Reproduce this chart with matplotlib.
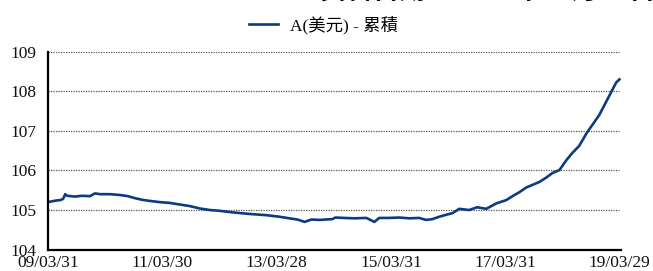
import matplotlib
matplotlib.use("Agg")
import matplotlib.pyplot as plt
import pandas as pd

series_name = "A(美元) - 累積"
title_text = "資料日期：2019年03月31日"

dates = [
    "2009-03-31", "2009-04-26", "2009-05-22", "2009-06-17", "2009-07-05", "2009-07-19",
    "2009-07-31", "2009-09-19", "2009-11-03", "2009-12-24", "2010-01-25", "2010-02-27",
    "2010-05-01", "2010-07-04", "2010-08-24", "2010-10-07", "2010-11-20", "2011-01-10",
    "2011-03-14", "2011-05-17", "2011-07-19", "2011-09-22", "2011-11-24", "2012-01-28",
    "2012-03-31", "2012-06-23", "2012-10-10", "2013-01-24", "2013-04-18", "2013-06-20",
    "2013-08-10", "2013-09-25", "2013-11-08", "2013-12-30", "2014-03-21", "2014-04-10",
    "2014-06-05", "2014-08-09", "2014-10-25", "2014-12-15", "2015-01-14", "2015-03-20",
    "2015-05-22", "2015-07-26", "2015-09-27", "2015-11-10", "2015-12-20", "2016-02-02",
    "2016-03-17", "2016-04-26", "2016-06-09", "2016-08-11", "2016-10-01", "2016-11-28",
    "2017-02-02", "2017-04-05", "2017-05-15", "2017-06-28", "2017-08-11", "2017-09-17",
    "2017-11-03", "2017-12-17", "2018-01-23", "2018-03-11", "2018-04-24", "2018-06-01",
    "2018-07-15", "2018-08-31", "2018-10-07", "2018-11-20", "2018-12-23", "2019-01-25",
    "2019-02-20", "2019-03-08", "2019-03-29",
]
values = [
    105.20, 105.22, 105.24, 105.25, 105.28, 105.40,
    105.36, 105.34, 105.36, 105.35, 105.42, 105.40,
    105.40, 105.38, 105.35, 105.30, 105.26, 105.23,
    105.20, 105.18, 105.14, 105.10, 105.04, 105.00,
    104.98, 104.94, 104.90, 104.87, 104.83, 104.79,
    104.76, 104.70, 104.76, 104.75, 104.77, 104.81,
    104.80, 104.79, 104.80, 104.70, 104.80, 104.80,
    104.81, 104.79, 104.80, 104.75, 104.77, 104.83,
    104.88, 104.92, 105.03, 105.00, 105.07, 105.03,
    105.17, 105.25, 105.35, 105.45, 105.57, 105.63,
    105.71, 105.82, 105.93, 106.01, 106.26, 106.44,
    106.62, 106.94, 107.15, 107.40, 107.65, 107.90,
    108.10, 108.22, 108.30,
]
xtick_dates = ["2009-03-31", "2011-03-30", "2013-03-28", "2015-03-31", "2017-03-31", "2019-03-29"]
xtick_labels = ["09/03/31", "11/03/30", "13/03/28", "15/03/31", "17/03/31", "19/03/29"]
yticks = [104, 105, 106, 107, 108, 109]

serif = ["Liberation Serif", "Noto Sans CJK TC", "DejaVu Sans"]

fig = plt.figure(figsize=(6.53, 2.71), dpi=100)
ax = fig.add_axes([48 / 653, 1 - 249.6 / 271, (621 - 48) / 653, (249.6 - 51.7) / 271])

x = pd.to_datetime(dates)
line, = ax.plot(x, values, color="#0d3b80", lw=1.9, solid_joinstyle="round")

ax.set_ylim(104, 109)
ax.set_xlim(pd.Timestamp(xtick_dates[0]), pd.Timestamp(xtick_dates[-1]) + pd.Timedelta(days=10))
ax.set_yticks(yticks)
ax.set_yticklabels([str(v) for v in yticks], family=serif, fontsize=12.5)
ax.set_xticks(pd.to_datetime(xtick_dates))
ax.set_xticklabels(xtick_labels, family=serif, fontsize=12.5)
ax.tick_params(axis="both", length=0, colors="#111111")
ax.tick_params(axis="y", pad=8)
ax.tick_params(axis="x", pad=4)

for v in yticks[1:]:
    ax.axhline(v, color="#555555", lw=0.9, ls=(0, (1, 1)), xmax=(619 - 48) / (621 - 48), zorder=0)

for s in ["top", "right"]:
    ax.spines[s].set_visible(False)
ax.spines["left"].set_linewidth(1.6)
ax.spines["bottom"].set_linewidth(1.6)
ax.spines["left"].set_color("black")
ax.spines["bottom"].set_color("black")

fig.legend([line], [series_name], loc="center",
           bbox_to_anchor=((245 + 402) / 2 / 653, 1 - 25 / 271),
           frameon=False, prop={"family": serif, "size": 12.5},
           handlelength=1.7, handletextpad=0.7)

fig.text(320 / 653, 1.0, title_text, family=["Noto Sans CJK TC", "DejaVu Sans"],
         fontsize=19, fontweight="bold", ha="left", va="baseline")

fig.savefig("out.png", dpi=100)
